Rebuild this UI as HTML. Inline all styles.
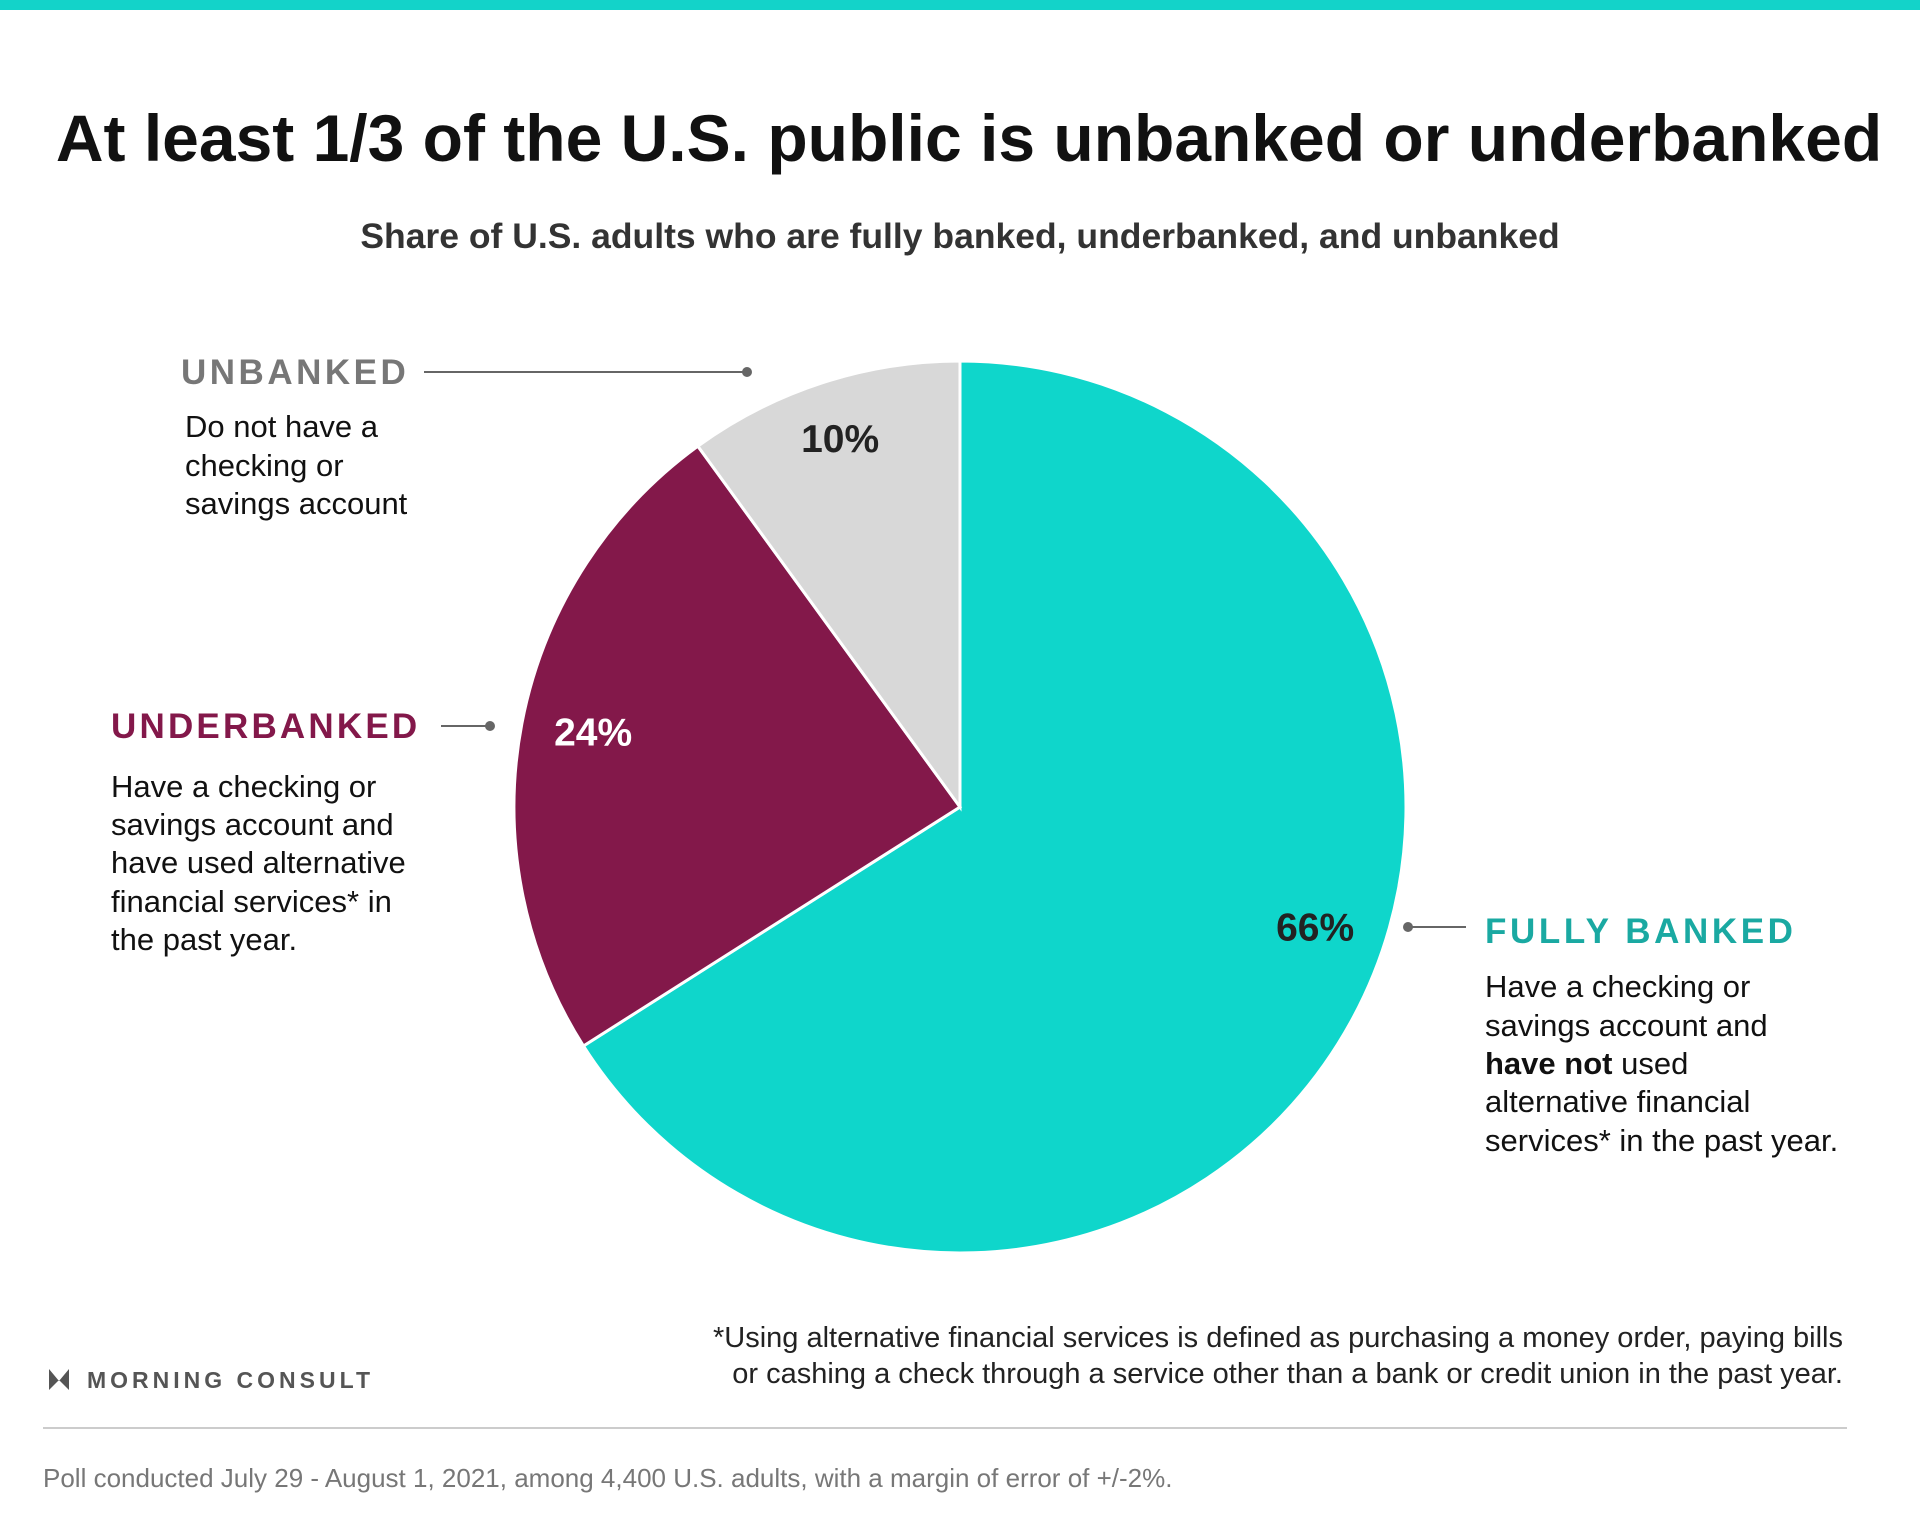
<!DOCTYPE html>
<html><head><meta charset="utf-8"><style>
html,body{margin:0;padding:0;background:#fff;}
svg{display:block;font-family:"Liberation Sans",sans-serif;}
</style></head><body>
<svg width="1920" height="1536" viewBox="0 0 1920 1536">
<rect x="0" y="0" width="1920" height="10" fill="#13d3c9"/>
<text x="969" y="161" text-anchor="middle" font-size="66" font-weight="bold" fill="#111">At least 1/3 of the U.S. public is unbanked or underbanked</text>
<text x="960" y="248" text-anchor="middle" font-size="35.5" font-weight="bold" fill="#333">Share of U.S. adults who are fully banked, underbanked, and unbanked</text>
<g id="pie"></g>
<g>
<text x="181" y="384" font-size="35" font-weight="bold" fill="#777" letter-spacing="3.5">UNBANKED</text>
<line x1="424" y1="372" x2="747" y2="372" stroke="#666" stroke-width="2"/><circle cx="747" cy="372" r="5" fill="#666"/>
<text font-size="31" fill="#111"><tspan x="185" y="437">Do not have a</tspan><tspan x="185" y="476">checking or</tspan><tspan x="185" y="514">savings account</tspan></text>
</g>
<g>
<text x="111" y="738" font-size="35" font-weight="bold" fill="#83184a" letter-spacing="3.2">UNDERBANKED</text>
<line x1="441" y1="726" x2="490" y2="726" stroke="#666" stroke-width="2"/><circle cx="490" cy="726" r="5" fill="#666"/>
<text font-size="31" fill="#111"><tspan x="111" y="797">Have a checking or</tspan><tspan x="111" y="835">savings account and</tspan><tspan x="111" y="873">have used alternative</tspan><tspan x="111" y="912">financial services* in</tspan><tspan x="111" y="950">the past year.</tspan></text>
</g>
<g>
<text x="1485" y="943" font-size="35" font-weight="bold" fill="#1aa9a2" letter-spacing="3.6">FULLY BANKED</text>
<line x1="1408" y1="927" x2="1466" y2="927" stroke="#666" stroke-width="2"/><circle cx="1408" cy="927" r="5" fill="#666"/>
<text font-size="31" fill="#111"><tspan x="1485" y="997">Have a checking or</tspan><tspan x="1485" y="1036">savings account and</tspan><tspan x="1485" y="1074" font-weight="bold">have not</tspan><tspan> used</tspan><tspan x="1485" y="1112">alternative financial</tspan><tspan x="1485" y="1151">services* in the past year.</tspan></text>
</g>
<text font-size="29" fill="#222" text-anchor="end"><tspan x="1843" y="1347">*Using alternative financial services is defined as purchasing a money order, paying bills</tspan><tspan x="1843" y="1383">or cashing a check through a service other than a bank or credit union in the past year.</tspan></text>
<g>
<path d="M49 1369 L59 1381 L69 1369 L69 1390 L59 1380 L49 1390 Z" fill="#555"/>
<text x="87" y="1388" font-size="23" font-weight="bold" fill="#555" letter-spacing="4">MORNING CONSULT</text>
</g>
<line x1="43" y1="1428" x2="1847" y2="1428" stroke="#ccc" stroke-width="2"/>
<text x="43" y="1487" font-size="26" fill="#777">Poll conducted July 29 - August 1, 2021, among 4,400 U.S. adults, with a margin of error of +/-2%.</text>
</svg>
<script>
const categories = ["Fully banked","Underbanked","Unbanked"];
const values = [66, 24, 10];
const valueLabels = ["66%","24%","10%"];
const colors = ["#0fd6cb","#83184a","#d8d8d8"];
const labelColors = ["#222","#fff","#222"];
const labelFrac = [0.457, 0.51, 0.5];
const labelR = [0.84, 0.84, 0.87];
const cx=960, cy=807, r=446;
const g=document.getElementById('pie');
const ns='http://www.w3.org/2000/svg';
const total=values.reduce((a,b)=>a+b,0);
function pt(a,rr){return [cx+rr*Math.sin(a), cy-rr*Math.cos(a)];}
let a0=0;
values.forEach((v,i)=>{
  const a1=a0+v/total*2*Math.PI;
  const p0=pt(a0,r),p1=pt(a1,r);
  const large=(a1-a0)>Math.PI?1:0;
  const p=document.createElementNS(ns,'path');
  p.setAttribute('d',`M${cx},${cy} L${p0[0]},${p0[1]} A${r},${r} 0 ${large} 1 ${p1[0]},${p1[1]} Z`);
  p.setAttribute('fill',colors[i]);p.setAttribute('stroke','#fff');p.setAttribute('stroke-width','3');
  
  
  g.appendChild(p);
  const lp=pt(a0+(a1-a0)*labelFrac[i],r*labelR[i]);
  const t=document.createElementNS(ns,'text');
  t.setAttribute('x',lp[0]);t.setAttribute('y',lp[1]+14);
  t.setAttribute('text-anchor','middle');t.setAttribute('font-size','39');t.setAttribute('font-weight','bold');
  t.setAttribute('fill',labelColors[i]);
  
  
  t.textContent=valueLabels[i];
  g.appendChild(t);
  a0=a1;
});
</script>
</body></html>
